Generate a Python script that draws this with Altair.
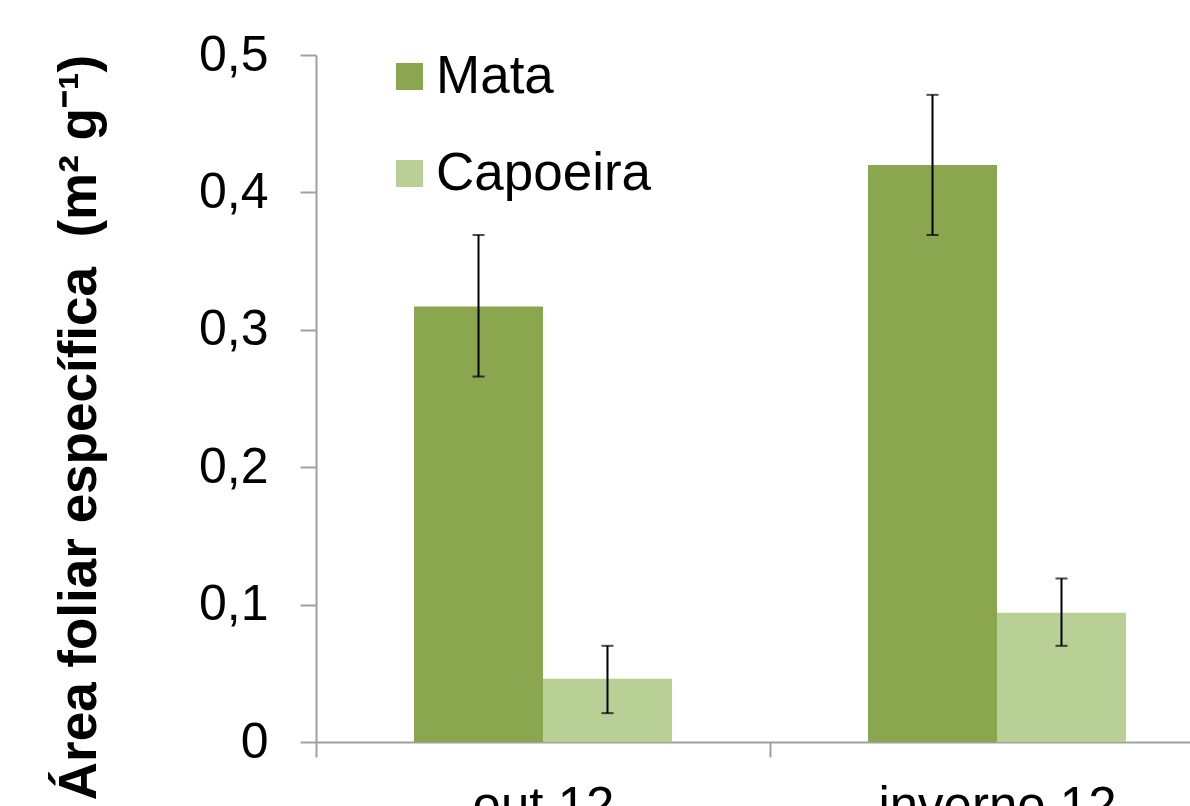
import altair as alt
import pandas as pd

# Specific leaf area by site and sampling period
categories = ["out 12", "inverno 12"]
series = ["Mata", "Capoeira"]
mata_mean = [0.317, 0.420]
mata_lo = [0.266, 0.369]
mata_hi = [0.369, 0.471]
capoeira_mean = [0.046, 0.094]
capoeira_lo = [0.021, 0.070]
capoeira_hi = [0.070, 0.119]
colors = ["#8aa64f", "#b8cf95"]
y_ticks = [0, 0.1, 0.2, 0.3, 0.4, 0.5]

rows = []
for i, cat in enumerate(categories):
    rows.append({"periodo": cat, "local": "Mata", "valor": mata_mean[i],
                 "lo": mata_lo[i], "hi": mata_hi[i]})
    rows.append({"periodo": cat, "local": "Capoeira", "valor": capoeira_mean[i],
                 "lo": capoeira_lo[i], "hi": capoeira_hi[i]})
df = pd.DataFrame(rows)

FONT = "Liberation Sans"
AXIS_GRAY = "#a0a0a0"

x_enc = alt.X(
    "periodo:N",
    sort=categories,
    scale=alt.Scale(paddingInner=0, paddingOuter=0, range=[0, 908]),
    axis=alt.Axis(
        title=None,
        labelAngle=0,
        labelFont=FONT,
        labelFontSize=51,
        labelColor="black",
        labelBaseline="alphabetic",
        labelPadding=65,
        labelLimit=0,
        tickBand="extent",
        tickSize=15,
        domainColor=AXIS_GRAY,
        tickColor=AXIS_GRAY,
        domainWidth=2,
        tickWidth=2,
    ),
)
xoff_enc = alt.XOffset(
    "local:N", sort=series, scale=alt.Scale(paddingInner=0, paddingOuter=0.76)
)

y_scale = alt.Scale(domain=[0, 0.5], nice=False)

bars = alt.Chart(df).mark_bar().encode(
    x=x_enc,
    xOffset=xoff_enc,
    y=alt.Y(
        "valor:Q",
        scale=y_scale,
        axis=alt.Axis(
            values=y_ticks,
            grid=False,
            labelExpr="datum.value == 0 ? '0' : replace(format(datum.value, '.1f'), '.', ',')",
            labelFont=FONT,
            labelFontSize=50,
            labelColor="black",
            labelPadding=32,
            tickSize=16,
            domainColor=AXIS_GRAY,
            tickColor=AXIS_GRAY,
            domainWidth=2,
            tickWidth=2,
            title="Área foliar específica\u00a0 (m² g⁻¹)",
            titleFont=FONT,
            titleFontWeight="bold",
            titleFontSize=53,
            titleColor="black",
            titleBaseline="alphabetic",
            titleAlign="center",
            titleX=-221,
            titleY=372,
        ),
    ),
    color=alt.Color(
        "local:N",
        sort=series,
        scale=alt.Scale(domain=series, range=colors),
        legend=alt.Legend(
            title=None,
            orient="none",
            legendX=67,
            legendY=-5,
            direction="vertical",
            symbolType="square",
            symbolSize=729,
            symbolStrokeWidth=0,
            symbolOpacity=1,
            labelFont=FONT,
            labelFontSize=53,
            labelColor="black",
            labelOffset=0,
            labelLimit=0,
            rowPadding=43,
            padding=0,
        ),
    ),
)

err = alt.Chart(df).mark_rule(color="black", strokeWidth=2).encode(
    x=alt.X("periodo:N", sort=categories),
    xOffset=alt.XOffset("local:N", sort=series),
    y=alt.Y("lo:Q", scale=y_scale),
    y2="hi:Q",
)

cap_hi = alt.Chart(df).mark_tick(color="black", thickness=2, size=12).encode(
    x=alt.X("periodo:N", sort=categories),
    xOffset=alt.XOffset("local:N", sort=series),
    y=alt.Y("hi:Q", scale=y_scale),
)
cap_lo = alt.Chart(df).mark_tick(color="black", thickness=2, size=12).encode(
    x=alt.X("periodo:N", sort=categories),
    xOffset=alt.XOffset("local:N", sort=series),
    y=alt.Y("lo:Q", scale=y_scale),
)

chart = (
    alt.layer(bars, err, cap_hi, cap_lo)
    .properties(
        width=874,
        height=687,
        padding={"left": 316, "top": 55, "right": 0, "bottom": 64},
        autosize=alt.AutoSizeParams(type="none"),
        background="white",
    )
    .configure_view(stroke=None)
)

chart.save("out.html", embed_options={"renderer": "svg", "actions": False})
